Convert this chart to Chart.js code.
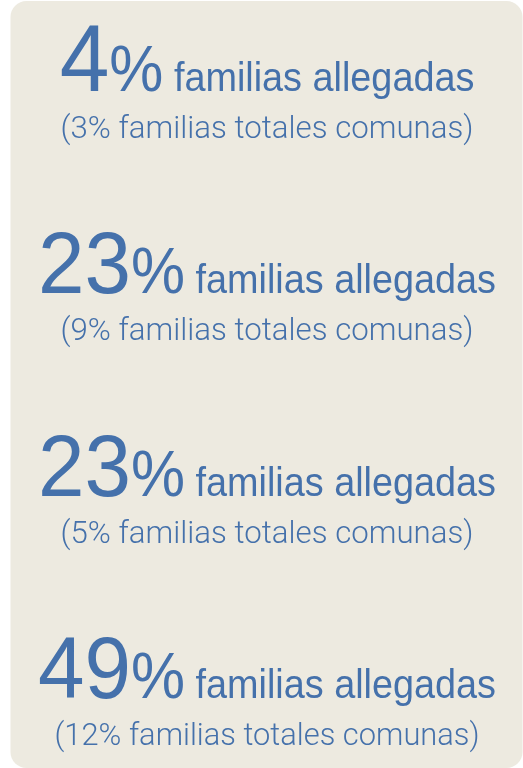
<!DOCTYPE html>
<html>
<head>
<meta charset="utf-8">
<script src="https://cdn.jsdelivr.net/npm/chart.js@4/dist/chart.umd.min.js"></script>
<style>
  html, body { margin: 0; padding: 0; background: #ffffff; }
  #wrap { position: relative; width: 523px; height: 768px; }
</style>
</head>
<body>
<div id="wrap"><canvas id="c"></canvas></div>
<script>
// ---- data ----
const categories = ['Grupo 1', 'Grupo 2', 'Grupo 3', 'Grupo 4'];
const allegadasPct = [4, 23, 23, 49];
const totalesPct = [3, 9, 5, 12];
const mainLabel = 'familias allegadas';
const subLabel = 'familias totales comunas';

// ---- styles ----
const TEXT_COLOR = '#4571AB';
const PANEL_COLOR = '#EDEAE0';
const FONT = '"Liberation Sans", Arial, Helvetica, sans-serif';
const SUB_FONT = '300 32px Roboto, "Liberation Sans", Arial, sans-serif';
const bigDigitSizes = [94, 88, 88, 88];
const subWidths = [413, 413, 413, 425];

function drawScaled(ctx, text, x, y, sx) {
  ctx.save();
  ctx.translate(x, y);
  ctx.scale(sx, 1);
  ctx.fillText(text, 0, 0);
  ctx.restore();
}

const panelPlugin = {
  id: 'panel',
  beforeDraw(chart) {
    const ctx = chart.ctx;
    ctx.save();
    ctx.fillStyle = '#ffffff';
    ctx.fillRect(0, 0, chart.width, chart.height);
    ctx.fillStyle = PANEL_COLOR;
    ctx.beginPath();
    ctx.roundRect(10.5, 1, 512, 767, 16);
    ctx.fill();
    ctx.restore();
  }
};

const textPlugin = {
  id: 'infoText',
  afterDatasetsDraw(chart) {
    const ctx = chart.ctx;
    const yScale = chart.scales.y;
    const main = chart.data.datasets[0].data;
    const sub = chart.data.datasets[1].data;
    const cx = 267;
    ctx.save();
    ctx.fillStyle = TEXT_COLOR;
    ctx.textBaseline = 'alphabetic';
    ctx.textAlign = 'left';
    chart.data.labels.forEach((lab, i) => {
      const y = yScale.getPixelForValue(i);
      // big line
      const num = String(main[i]);
      const sxNum = 0.95, sxPct = 0.95, sxLab = 0.945;
      ctx.font = bigDigitSizes[i] + 'px ' + FONT;
      const wNum = ctx.measureText(num).width * sxNum;
      ctx.font = '64px ' + FONT;
      const wPct = ctx.measureText('%').width * sxPct;
      ctx.font = '40px ' + FONT;
      const wSp = ctx.measureText(' ').width * sxLab;
      const wLab = ctx.measureText(mainLabel).width * sxLab;
      let x = cx - (wNum + wPct + wSp + wLab) / 2;
      ctx.font = bigDigitSizes[i] + 'px ' + FONT;
      drawScaled(ctx, num, x, y, sxNum);
      x += wNum;
      ctx.font = '64px ' + FONT;
      drawScaled(ctx, '%', x, y, sxPct);
      x += wPct + wSp;
      ctx.font = '40px ' + FONT;
      drawScaled(ctx, mainLabel, x, y, sxLab);
      // sub line
      const subText = '(' + sub[i] + '% ' + subLabel + ')';
      ctx.font = SUB_FONT;
      const raw = ctx.measureText(subText).width;
      const sxSub = subWidths[i] / raw;
      drawScaled(ctx, subText, cx - subWidths[i] / 2, y + 47, sxSub);
    });
    ctx.restore();
  }
};

new Chart(document.getElementById('c'), {
  type: 'bar',
  data: {
    labels: categories,
    datasets: [
      { label: 'Familias allegadas (%)', data: allegadasPct, backgroundColor: 'rgba(0,0,0,0)', borderWidth: 0 },
      { label: 'Familias totales comunas (%)', data: totalesPct, backgroundColor: 'rgba(0,0,0,0)', borderWidth: 0 }
    ]
  },
  options: {
    indexAxis: 'y',
    responsive: true,
    maintainAspectRatio: false,
    animation: false,
    layout: { padding: { top: 91, bottom: 70, left: 0, right: 0 } },
    plugins: { legend: { display: false }, tooltip: { enabled: false } },
    scales: {
      x: { display: false, min: 0, max: 100 },
      y: { display: false, offset: false }
    }
  },
  plugins: [panelPlugin, textPlugin]
});
</script>
</body>
</html>
